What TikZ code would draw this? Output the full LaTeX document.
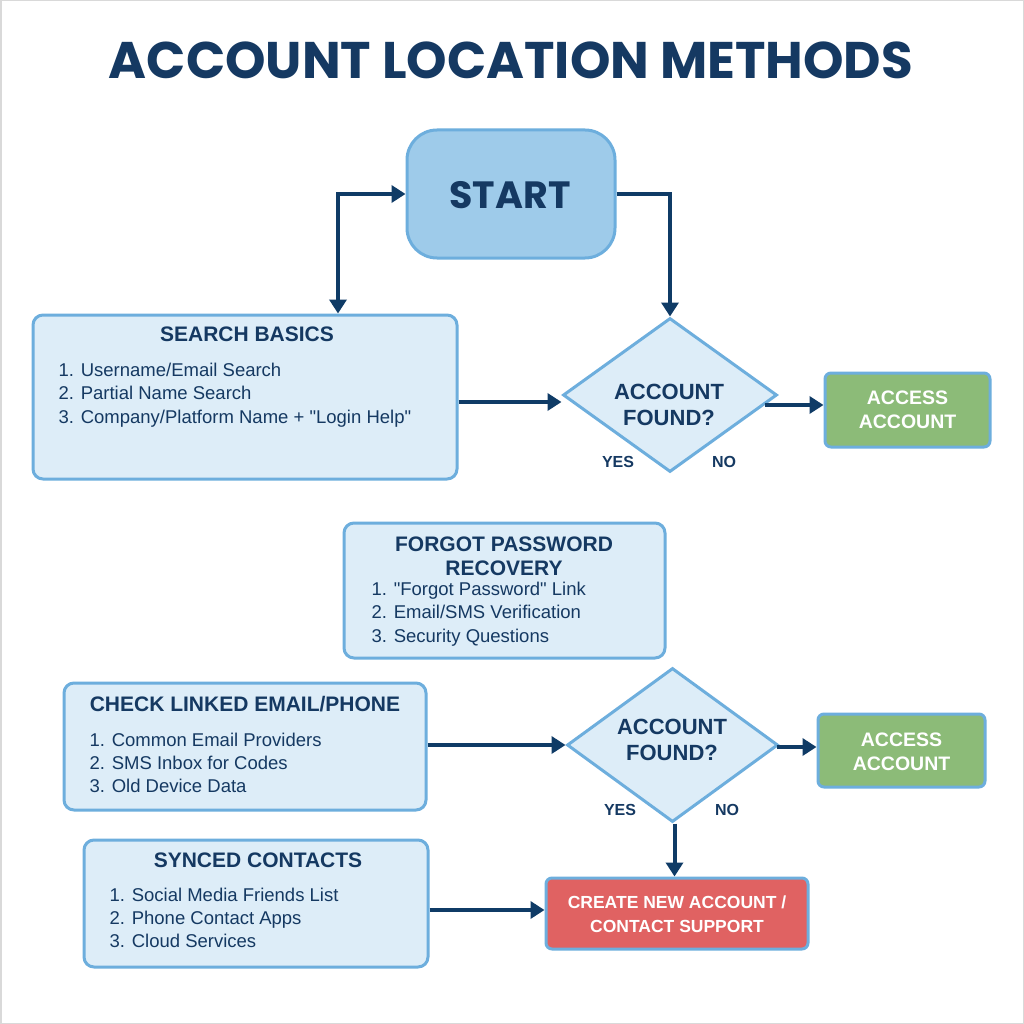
\documentclass[tikz,border=0pt]{standalone}
\usepackage{fontspec}
\setmainfont{Liberation Sans}[Ligatures=TeXOff]
\newfontfamily\titlefont{Poppins}
\usetikzlibrary{arrows.meta,shapes.geometric}
\definecolor{navy}{HTML}{0F3B66}
\definecolor{txtnavy}{HTML}{153962}
\definecolor{boxfill}{HTML}{DDEDF8}
\definecolor{boxline}{HTML}{6DAEDD}
\definecolor{startfill}{HTML}{9ECBEA}
\definecolor{okgreen}{HTML}{8CBB78}
\definecolor{badred}{HTML}{E06262}
\begin{document}
\begin{tikzpicture}[x=1pt,y=-1pt,
  box/.style={draw=boxline, line width=3, fill=boxfill, rounded corners=10, inner sep=0},
  startbox/.style={draw=boxline, line width=3, fill=startfill, rounded corners=30, inner sep=0},
  okbox/.style={draw=boxline, line width=3, fill=okgreen, rounded corners=6, inner sep=0},
  badbox/.style={draw=boxline, line width=3, fill=badred, rounded corners=6, inner sep=0},
  dia/.style={diamond, draw=boxline, line width=3, fill=boxfill, inner sep=0, aspect=1.39},
  head/.style={text=txtnavy, font=\bfseries\fontsize{21}{24}\selectfont, align=center},
  item/.style={text=txtnavy, font=\fontsize{18.5}{23.3}\selectfont, anchor=west, align=left},
  diatxt/.style={text=txtnavy, font=\bfseries\fontsize{22}{26}\selectfont, align=center},
  yn/.style={text=txtnavy, font=\bfseries\fontsize{16}{18}\selectfont},
  whitetxt/.style={text=white, font=\bfseries\fontsize{19.5}{24}\selectfont, align=center},
  arr/.style={draw=navy, line width=4, -{Triangle[length=14,width=17]}},
  darr/.style={draw=navy, line width=4, {Triangle[length=14,width=17]}-{Triangle[length=14,width=17]}}
]
\useasboundingbox (0,0) rectangle (1024,1024);
\fill[white] (0,0) rectangle (1024,1024);
\draw[black!15, line width=1.5] (0.75,0.75) rectangle (1023.25,1023.25);

% title
\node[text=txtnavy, font=\titlefont\bfseries\fontsize{51.5}{60}\selectfont] (title) at (511,60) {ACCOUNT LOCATION METHODS};

% start
\node[startbox, minimum width=208, minimum height=128] (st) at (511,194) {};
\node[text=txtnavy, font=\titlefont\bfseries\fontsize{38}{46}\selectfont] (sttxt) at (510,195) {START};

% search basics
\node[box, minimum width=424, minimum height=164] (sb) at (245,397) {};
\node[head] (sbh) at (247,334) {SEARCH BASICS};
\node[item] (sbi) at (55,395) {1. Username/Email Search\\2. Partial Name Search\\3. Company/Platform Name + "Login Help"};

% decision 1
\node[dia, minimum width=214, minimum height=154] (d1) at (670,395) {};
\node[diatxt] (d1t) at (669,405) {ACCOUNT\\FOUND?};
\node[yn] (y1) at (618,462) {YES};
\node[yn] (n1) at (724,462) {NO};

% access 1
\node[okbox, minimum width=165, minimum height=74] (a1) at (907.5,410) {};
\node[whitetxt] (a1t) at (907.5,410) {ACCESS\\ACCOUNT};

% forgot password
\node[box, minimum width=321, minimum height=135] (fp) at (504.5,590.5) {};
\node[head] (fph) at (504,556) {FORGOT PASSWORD\\RECOVERY};
\node[item] (fpi) at (368,614) {1. "Forgot Password" Link\\2. Email/SMS Verification\\3. Security Questions};

% check linked
\node[box, minimum width=362, minimum height=127] (cl) at (245,746.5) {};
\node[head] (clh) at (245,704) {CHECK LINKED EMAIL/PHONE};
\node[item] (cli) at (86,763) {1. Common Email Providers\\2. SMS Inbox for Codes\\3. Old Device Data};

% decision 2
\node[dia, minimum width=211, minimum height=154] (d2) at (672.5,745) {};
\node[diatxt] (d2t) at (672,740) {ACCOUNT\\FOUND?};
\node[yn] (y2) at (620,810) {YES};
\node[yn] (n2) at (727,810) {NO};

% access 2
\node[okbox, minimum width=167, minimum height=73] (a2) at (901.5,750.5) {};
\node[whitetxt] (a2t) at (901.5,752) {ACCESS\\ACCOUNT};

% synced contacts
\node[box, minimum width=344, minimum height=127] (sc) at (256,903.5) {};
\node[head] (sch) at (258,860) {SYNCED CONTACTS};
\node[item] (sci) at (106,918) {1. Social Media Friends List\\2. Phone Contact Apps\\3. Cloud Services};

% create / support
\node[badbox, minimum width=262, minimum height=71] (cr) at (677,913.5) {};
\node[whitetxt, font=\bfseries\fontsize{17.5}{24}\selectfont] (crt) at (677,914) {CREATE NEW ACCOUNT /\\CONTACT SUPPORT};

% connectors
\draw[darr] ([xshift=93]sb.north) |- (st.west);
\draw[arr] (st.east) -| (d1.north);
\draw[arr] ([yshift=-5]sb.east) -- ([yshift=-5]sb.east -| d1.west);
\draw[arr] ([xshift=-14,yshift=-10]d1.east) -- ([yshift=-10]d1.east -| a1.west);
\draw[arr] ([yshift=1.5]cl.east) -- ([yshift=1.5]cl.east -| d2.west);
\draw[arr] ([xshift=-3,yshift=-2]d2.east) -- ([yshift=-2]d2.east -| a2.west);
\draw[arr] ([xshift=2]d2.south) -- ([xshift=2]d2.south |- cr.north);
\draw[arr] ([yshift=-6.5]sc.east) -- ([yshift=-6.5]sc.east -| cr.west);
\end{tikzpicture}
\end{document}
